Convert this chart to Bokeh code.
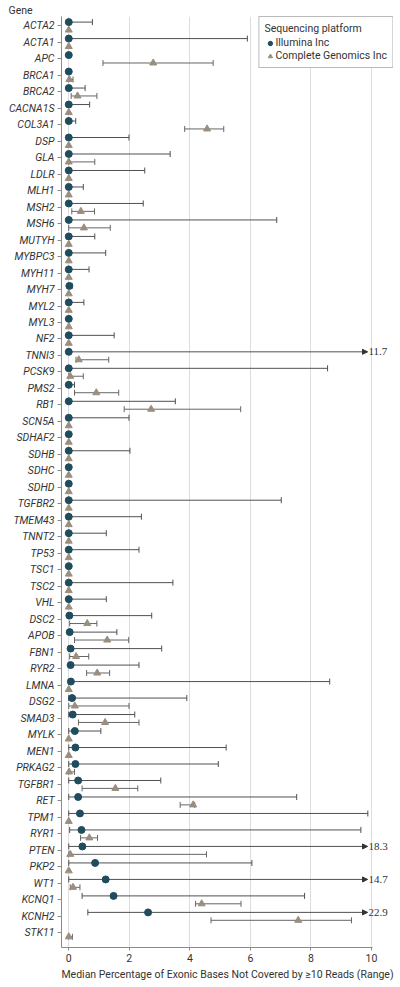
from bokeh.plotting import figure
from bokeh.models import (ColumnDataSource, Range1d, FixedTicker, Whisker, TeeHead,
                          NormalHead, LabelSet, Legend, LegendItem, Title)
from bokeh.transform import dodge
from bokeh.embed import file_html
from bokeh.resources import INLINE
import math

genes = ["ACTA2", "ACTA1", "APC", "BRCA1", "BRCA2", "CACNA1S", "COL3A1", "DSP", "GLA", "LDLR",
         "MLH1", "MSH2", "MSH6", "MUTYH", "MYBPC3", "MYH11", "MYH7", "MYL2", "MYL3", "NF2",
         "TNNI3", "PCSK9", "PMS2", "RB1", "SCN5A", "SDHAF2", "SDHB", "SDHC", "SDHD", "TGFBR2",
         "TMEM43", "TNNT2", "TP53", "TSC1", "TSC2", "VHL", "DSC2", "APOB", "FBN1", "RYR2",
         "LMNA", "DSG2", "SMAD3", "MYLK", "MEN1", "PRKAG2", "TGFBR1", "RET", "TPM1", "RYR1",
         "PTEN", "PKP2", "WT1", "KCNQ1", "KCNH2", "STK11"]

nan = float("nan")
# Illumina Inc: median, low, high
ill_med = [0, 0, 0, 0, 0, 0, 0, 0, 0, 0,
           0, 0, 0, 0, 0, 0, 0.02, 0, 0, 0,
           0, 0, 0, 0, 0, 0, 0, 0, 0, 0,
           0, 0, 0, 0, 0, 0, 0.02, 0.03, 0.06, 0.06,
           0.07, 0.11, 0.13, 0.20, 0.22, 0.22, 0.31, 0.31, 0.37, 0.42,
           0.45, 0.87, 1.22, 1.48, 2.62, nan]
ill_lo = [0, 0, 0, 0, 0, 0, 0, 0, 0, 0,
          0, 0, 0, 0, 0, 0, 0, 0, 0, 0,
          0, 0, 0, 0, 0, 0, 0, 0, 0, 0,
          0, 0, 0, 0, 0, 0, 0, 0, 0, 0,
          0, 0, 0, 0, 0, 0, 0, 0, 0, 0.03,
          0, 0, 0, 0.44, 0.63, nan]
ill_hi = [0.78, 5.90, 0, 0, 0.54, 0.69, 0.23, 1.99, 3.35, 2.51,
          0.48, 2.46, 6.87, 0.86, 1.22, 0.67, 0.11, 0.50, 0, 1.50,
          11.7, 8.55, 0.19, 3.52, 1.99, 0, 2.02, 0, 0, 7.02,
          2.40, 1.24, 2.32, 0, 3.44, 1.24, 2.74, 1.59, 3.07, 2.32,
          8.62, 3.90, 2.18, 1.06, 5.20, 4.94, 3.04, 7.53, 9.88, 9.65,
          18.3, 6.05, 14.7, 7.79, 22.9, nan]

# Complete Genomics Inc: median, low, high
cg_med = [0, 0, 2.79, 0.02, 0.29, 0, 4.57, 0, 0, 0,
          0, 0.40, 0.50, 0, 0, 0, 0, 0, 0, 0,
          0.33, 0.05, 0.91, 2.72, 0, 0, 0, 0, 0, 0,
          0, 0, 0, 0, 0, 0, 0.61, 1.27, 0.24, 0.94,
          0, 0.20, 1.20, 0, 0, 0.01, 1.54, 4.11, 0, 0.68,
          0.05, 0, 0.14, 4.39, 7.58, 0]
cg_lo = [0, 0, 1.13, 0, 0.08, 0, 3.83, 0, 0, 0,
         0, 0.10, 0, 0, 0, 0, 0, 0, 0, 0,
         0.24, 0, 0.19, 1.83, 0, 0, 0, 0, 0, 0,
         0, 0, 0, 0, 0, 0, 0.03, 0.19, 0.03, 0.59,
         0, 0, 0.32, 0, 0, 0, 0.44, 3.68, 0, 0.39,
         0, 0, 0.05, 4.19, 4.70, 0]
cg_hi = [0, 0, 4.77, 0.14, 0.93, 0, 5.12, 0, 0.86, 0,
         0, 0.85, 1.37, 0, 0, 0, 0, 0, 0, 0,
         1.32, 0.48, 1.65, 5.68, 0, 0, 0, 0, 0, 0,
         0, 0, 0, 0, 0, 0, 0.93, 1.98, 0.66, 1.35,
         0, 1.99, 2.32, 0, 0, 0.19, 2.28, 4.16, 0, 0.95,
         4.55, 0, 0.37, 5.69, 9.34, 0.12]

x_ticks = [0, 2, 4, 6, 8, 10]
x_max = 10          # axis limit; ranges beyond it are drawn as arrows with the value
arrow_end = 9.87    # where the overflow arrow tip is drawn

rows = list(range(len(genes)))

C_ILL = "#1f4d5d"
C_CG = "#9a8e7e"
C_LINE = "#505050"
C_LINE2 = "#666666"
C_TEXT = "#333333"
C_AXIS = "#8a8a8a"
FONT = "Roboto"

p = figure(width=400, height=987, output_backend="svg", toolbar_location=None,
           x_range=Range1d(-0.24, 10.728), y_range=Range1d(len(genes) - 1 + 0.91, -0.56),
           min_border_left=61, min_border_right=7, min_border_top=16, min_border_bottom=40)
p.outline_line_color = None
p.background_fill_color = "white"

p.add_layout(Title(text="Gene", align="left", offset=-53, standoff=0,
                   text_font=FONT, text_font_size="10.5px", text_font_style="normal",
                   text_color=C_TEXT), "above")

# grid
p.xgrid.ticker = FixedTicker(ticks=x_ticks)
p.xgrid.grid_line_color = "#dddddd"
p.ygrid.grid_line_color = None

# axes
p.xaxis.ticker = FixedTicker(ticks=x_ticks)
p.xaxis.bounds = (-0.24, 10.04)
p.xaxis.axis_label = "Median Percentage of Exonic Bases Not Covered by \u226510 Reads (Range)"
p.xaxis.axis_label_text_font = FONT
p.xaxis.axis_label_text_font_style = "normal"
p.xaxis.axis_label_text_font_size = "10.5px"
p.xaxis.axis_label_text_color = C_TEXT
p.xaxis.axis_label_standoff = 3
p.xaxis.major_label_text_font = FONT
p.xaxis.major_label_text_font_size = "10.5px"
p.xaxis.major_label_text_color = C_TEXT
p.xaxis.major_label_standoff = 3
p.xaxis.major_tick_out = 3
p.xaxis.major_tick_in = 0
p.xaxis.minor_tick_out = 0
p.xaxis.minor_tick_in = 0
p.xaxis.axis_line_color = C_AXIS
p.xaxis.major_tick_line_color = C_AXIS

p.yaxis.ticker = FixedTicker(ticks=rows)
p.yaxis.major_label_overrides = {i: g for i, g in enumerate(genes)}
p.yaxis.major_label_text_font = FONT
p.yaxis.major_label_text_font_style = "italic"
p.yaxis.major_label_text_font_size = "10.5px"
p.yaxis.major_label_text_color = C_TEXT
p.yaxis.major_label_standoff = 3
p.yaxis.major_tick_out = 4
p.yaxis.major_tick_in = 0
p.yaxis.minor_tick_out = 0
p.yaxis.minor_tick_in = 0
p.yaxis.axis_line_color = C_AXIS
p.yaxis.major_tick_line_color = C_AXIS

# sources
def build(med, lo, hi):
    d = dict(row=[], med=[], lo=[], hi=[])
    w = dict(row=[], lo=[], hi=[])
    o = dict(row=[], lo=[], hi=[], txt=[])
    for r, m, l, h in zip(rows, med, lo, hi):
        if math.isnan(m):
            continue
        d["row"].append(r); d["med"].append(m); d["lo"].append(l); d["hi"].append(h)
        if h > x_max:
            o["row"].append(r); o["lo"].append(l); o["hi"].append(arrow_end); o["txt"].append(f"{h:g}")
        elif h > l:
            w["row"].append(r); w["lo"].append(l); w["hi"].append(h)
    return ColumnDataSource(d), ColumnDataSource(w), ColumnDataSource(o)

ill_src, ill_w, ill_o = build(ill_med, ill_lo, ill_hi)
cg_src, cg_w, cg_o = build(cg_med, cg_lo, cg_hi)

OFF_ILL = -0.22
OFF_CG = 0.26

for wsrc, osrc, off, lc in [(ill_w, ill_o, OFF_ILL, C_LINE), (cg_w, cg_o, OFF_CG, C_LINE2)]:
    wk = Whisker(source=wsrc, base=dodge("row", off), lower="lo", upper="hi", dimension="width",
                 line_color=lc, line_width=1, level="underlay",
                 lower_head=TeeHead(size=6, line_color=lc, line_width=1),
                 upper_head=TeeHead(size=6, line_color=lc, line_width=1))
    p.add_layout(wk)
    if len(osrc.data["row"]):
        ov = Whisker(source=osrc, base=dodge("row", off), lower="lo", upper="hi", dimension="width",
                     line_color=lc, line_width=1, level="underlay",
                     lower_head=TeeHead(size=6, line_color=lc, line_width=1),
                     upper_head=NormalHead(size=5, line_color="#333333", line_width=1,
                                           fill_color="#333333"))
        p.add_layout(ov)
        ls = LabelSet(source=osrc, x="hi", y=dodge("row", off), text="txt", x_offset=1,
                      text_font=FONT, text_font_size="11px", text_color=C_TEXT,
                      text_baseline="middle", text_align="left")
        p.add_layout(ls)

r_ill = p.scatter(x="med", y=dodge("row", OFF_ILL), source=ill_src, marker="circle", size=7,
                  fill_color=C_ILL, line_color=C_ILL)
r_cg = p.scatter(x="med", y=dodge("row", OFF_CG), source=cg_src, marker="triangle", size=7,
                 fill_color=C_CG, line_color=C_CG)

legend = Legend(items=[LegendItem(label="Illumina Inc", renderers=[r_ill]),
                       LegendItem(label="Complete Genomics Inc", renderers=[r_cg])],
                title="Sequencing platform", location="top_right",
                title_text_font=FONT, title_text_font_size="10.5px", title_text_font_style="normal",
                title_text_color=C_TEXT, title_standoff=1,
                label_text_font=FONT, label_text_font_size="10.5px", label_text_color=C_TEXT,
                glyph_width=11, glyph_height=12, label_height=12, label_standoff=0,
                padding=5, spacing=0, margin=0, border_line_color="#777777",
                border_line_width=1, background_fill_alpha=1.0)
p.add_layout(legend, "center")

open("out.html", "w").write(file_html(p, INLINE))
